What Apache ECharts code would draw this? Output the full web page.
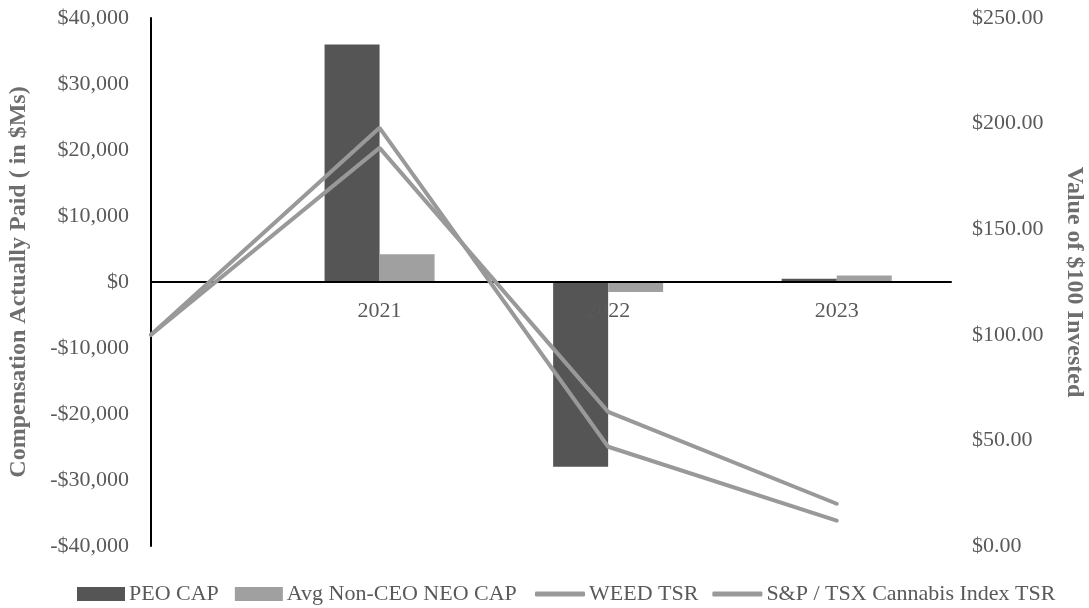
<!DOCTYPE html>
<html>
<head>
<meta charset="utf-8">
<script src="https://cdn.jsdelivr.net/npm/echarts@6/dist/echarts.min.js"></script>
<style>
html,body{margin:0;padding:0;background:#fff;}
#chart{width:1089px;height:608px;}
</style>
</head>
<body>
<div id="chart"></div>
<script>
// ---- data ----
const barYears = [2021, 2022, 2023];
const peoCap = [36000, -28000, 500];
const avgNeoCap = [4200, -1500, 1000];
const tsrYears = [2020, 2021, 2022, 2023];
const weedTsr = [100, 198, 47, 12];
const spTsxTsr = [100, 188.5, 63.5, 20];
const leftTicks = [-40000, -30000, -20000, -10000, 0, 10000, 20000, 30000, 40000];
const rightTicks = [0, 50, 100, 150, 200, 250];

const FONT = 'Liberation Serif';
const LABEL = '#595959';
const TITLE = '#6e6e6e';
const GRID_TOP = 18, GRID_BOTTOM = 62, H = 608;
const pair = (xs, ys) => xs.map((x, i) => [x, ys[i]]);
const money = v => (v < 0 ? '-$' : '$') + Math.abs(v).toLocaleString('en-US');

// zero of the left axis sits mid-way (symmetric range); move the x axis up to it
const plotH = H - GRID_TOP - GRID_BOTTOM;
const lMin = leftTicks[0], lMax = leftTicks[leftTicks.length - 1];
const zeroOffset = -plotH * (0 - lMin) / (lMax - lMin);

const chart = echarts.init(document.getElementById('chart'), null, {renderer: 'canvas'});
chart.setOption({
  animation: false,
  backgroundColor: '#fff',
  textStyle: {fontFamily: FONT},
  grid: {left: 151, right: 138, top: GRID_TOP, bottom: GRID_BOTTOM, containLabel: false, outerBoundsMode: 'none'},
  legend: [
    {
      left: 72, top: 578, itemWidth: 48, itemHeight: 14, itemGap: 16, icon: 'rect',
      textStyle: {fontFamily: FONT, fontSize: 22, color: LABEL, padding: [0, 0, 0, -1]},
      data: ['PEO CAP', 'Avg Non-CEO NEO CAP']
    },
    {
      left: 530, top: 578, itemWidth: 50, itemHeight: 5, itemGap: 14, icon: 'roundRect',
      textStyle: {fontFamily: FONT, fontSize: 22, color: LABEL, padding: [0, 0, 0, -1]},
      data: ['WEED TSR', 'S&P / TSX Cannabis Index TSR']
    }
  ],
  xAxis: {
    type: 'value', min: 2020, max: 2023.5, interval: 1, position: 'bottom', offset: zeroOffset, z: 3,
    axisLine: {show: true, onZero: false, lineStyle: {color: '#000', width: 2}},
    axisTick: {show: false},
    splitLine: {show: false},
    axisLabel: {
      fontFamily: FONT, fontSize: 22, color: LABEL, margin: 18,
      formatter: v => barYears.indexOf(v) >= 0 ? String(v) : ''
    }
  },
  yAxis: [
    {
      type: 'value', min: lMin, max: lMax, interval: 10000,
      position: 'left',
      name: 'Compensation Actually Paid ( in $Ms)', nameLocation: 'middle', nameGap: 120,
      nameTextStyle: {fontFamily: FONT, fontSize: 24, fontWeight: 'bold', color: TITLE},
      axisLine: {show: true, onZero: false, lineStyle: {color: '#000', width: 2}},
      axisTick: {show: false},
      splitLine: {show: false},
      axisLabel: {fontFamily: FONT, fontSize: 22, color: LABEL, margin: 22, formatter: money}
    },
    {
      type: 'value', min: rightTicks[0], max: rightTicks[rightTicks.length - 1], interval: 50,
      position: 'right',
      name: 'Value of $100 Invested', nameLocation: 'middle', nameGap: 111, nameRotate: -90,
      nameTextStyle: {fontFamily: FONT, fontSize: 24, fontWeight: 'bold', color: TITLE},
      axisLine: {show: false},
      axisTick: {show: false},
      splitLine: {show: false},
      axisLabel: {fontFamily: FONT, fontSize: 22, color: LABEL, margin: 21, formatter: v => '$' + v.toFixed(2)}
    }
  ],
  series: [
    {
      name: 'PEO CAP', type: 'bar', yAxisIndex: 0, barWidth: 55, barGap: '0%', z: 2,
      itemStyle: {color: '#555555'}, data: pair(barYears, peoCap)
    },
    {
      name: 'Avg Non-CEO NEO CAP', type: 'bar', yAxisIndex: 0, barWidth: 55, barGap: '0%', z: 2,
      itemStyle: {color: '#a0a0a0'}, data: pair(barYears, avgNeoCap)
    },
    {
      name: 'WEED TSR', type: 'line', yAxisIndex: 1, showSymbol: false, symbol: 'none', z: 5,
      itemStyle: {color: '#999999'},
      lineStyle: {color: '#999999', width: 4, cap: 'round'}, data: pair(tsrYears, weedTsr)
    },
    {
      name: 'S&P / TSX Cannabis Index TSR', type: 'line', yAxisIndex: 1, showSymbol: false, symbol: 'none', z: 5,
      itemStyle: {color: '#999999'},
      lineStyle: {color: '#999999', width: 4, cap: 'round'}, data: pair(tsrYears, spTsxTsr)
    }
  ]
});
</script>
</body>
</html>
